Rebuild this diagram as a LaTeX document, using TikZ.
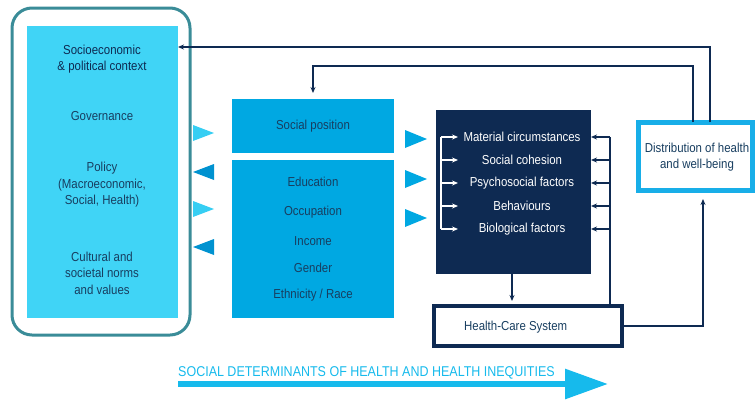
\documentclass[tikz,border=0pt]{standalone}
\usepackage{fontspec}
\setmainfont{Liberation Sans}[FakeStretch=0.88]
\usetikzlibrary{arrows.meta,calc,positioning}
\definecolor{tealframe}{RGB}{58,140,152}
\definecolor{skycyan}{RGB}{64,212,246}
\definecolor{midblue}{RGB}{0,168,226}
\definecolor{darkblue}{RGB}{0,146,208}
\definecolor{navy}{RGB}{14,42,82}
\definecolor{txtblue}{RGB}{24,62,96}
\definecolor{distblue}{RGB}{24,174,232}
\definecolor{arrowcyan}{RGB}{22,186,236}
\tikzset{
	box/.style={anchor=north west, inner sep=0pt, outer sep=0pt},
	txt/.style={text=txtblue, font=\fontsize{13}{16.5}\selectfont, align=center, inner sep=0pt},
	conn/.style={draw=navy, line width=1.4pt, -{Stealth[length=6pt,width=5pt]}},
	wire/.style={draw=navy, line width=1.4pt},
	brack/.style={draw=white, line width=1.2pt, -{Stealth[length=6pt,width=5pt]}}
}

\begin{document}
\begin{tikzpicture}[x=1pt, y=-1pt]
	\useasboundingbox (0,0) rectangle (755,400);
	% structural and political context
	\node[box, fill=skycyan, minimum width=151pt, minimum height=292pt] (ctx) at (27,26) {};
	\draw[tealframe, line width=3pt, rounded corners=20pt] (12,8) rectangle (190,335);
	\node[txt, text=navy] (socio) at (102,59) {Socioeconomic\\\& political context};
	\node[txt] (gov) at (102,116) {Governance};
	\node[txt] (policy) at (102,185) {Policy\\(Macroeconomic,\\Social, Health)};
	\node[txt] (norms) at (102,273) {Cultural and\\societal norms\\and values};
	% triangles between context and position
	\foreach \y in {133,209}
		\fill[skycyan!85!midblue] (193,\y-8) -- (214,\y) -- (193,\y+8) -- cycle;
	\foreach \y in {172,247}
		\fill[darkblue] (214,\y-8) -- (193,\y) -- (214,\y+8) -- cycle;
	% socioeconomic position
	\node[box, fill=midblue, minimum width=162pt, minimum height=54pt] (pos) at (232,99) {};
	\node[txt] (spos) at (313,126) {Social position};
	\node[box, fill=midblue, minimum width=162pt, minimum height=158pt] (strat) at (232,160) {};
	\foreach \t/\y [count=\i] in {Education/182, Occupation/212, Income/241, Gender/268, {Ethnicity / Race}/295}
		\node[txt] (strat-\i) at (313,\y) {\t};
	\foreach \y in {139,179,218}
		\fill[midblue] (405,\y-9) -- (427,\y) -- (405,\y+9) -- cycle;
	% intermediary determinants
	\node[box, fill=navy, minimum width=155pt, minimum height=164pt] (det) at (436,110) {};
	\foreach \t/\y [count=\i] in {Material circumstances/137, Social cohesion/160, Psychosocial factors/183, Behaviours/206, Biological factors/229}{
		\node[txt, text=white] (mat-\i) at (522,\y) {\t};
		\draw[brack] (441,\y) -- (458,\y);
		\draw[conn] (610,\y) -- (det.east |- mat-\i);
	}
	\draw[white, line width=1.2pt] (441,137) -- (441,229);
	% health system
	\node[box, draw=navy, line width=3.5pt, fill=white, minimum width=188pt, minimum height=40pt] (hcs) at (434,306) {};
	\node[txt, anchor=west] (hcstxt) at (464,327) {Health-Care System};
	\draw[wire] (hcs.north -| 610,0) -- (610,137);
	\draw[conn, shorten >=5pt] (det.south -| 512,0) -- (hcs.north -| 512,0);
	% distribution of health
	\node[box, draw=distblue, line width=5pt, fill=white, minimum width=114pt, minimum height=68pt] (dist) at (638,122) {};
	\node[txt] (disttxt) at (697,157) {Distribution of health\\and well-being};
	\coordinate (up) at (703,199);
	\draw[conn] (hcs.east) -| (up);
	\coordinate (top1) at (710,47);
	\coordinate (top2) at (693,66);
	\draw[conn] (dist.north -| top1) -- (top1) -- (top1 -| ctx.east);
	\draw[conn, shorten >=6pt] (dist.north -| top2) -- (top2) -| (pos.north);
	% bottom arrow
	\node[anchor=base west, inner sep=0pt, text=arrowcyan, font=\fontsize{14.2}{16}\selectfont] (sdh) at (178,376) {SOCIAL DETERMINANTS OF HEALTH AND HEALTH INEQUITIES};
	\draw[arrowcyan, line width=6pt, -{Triangle[length=43pt,width=29pt]}] (sdh.base west |- 0,384) -- (608,384);
\end{tikzpicture}
\end{document}
